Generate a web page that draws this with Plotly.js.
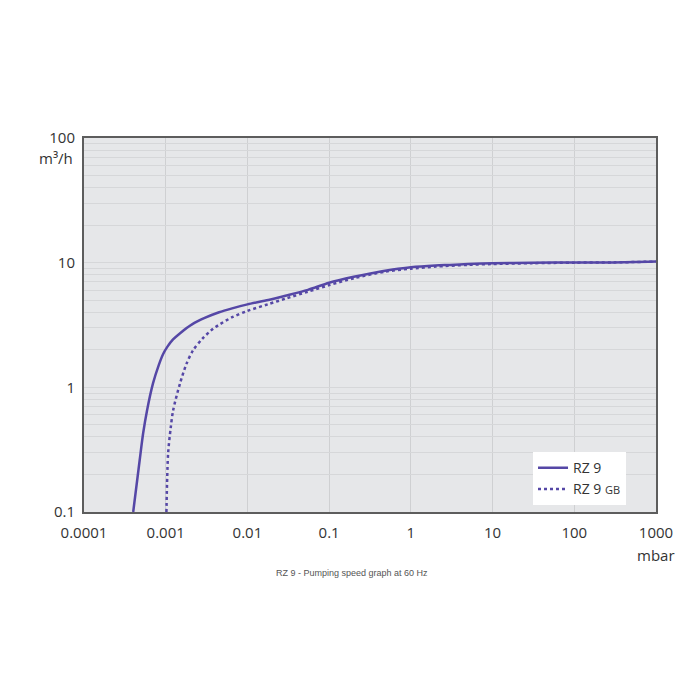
<!DOCTYPE html>
<html>
<head>
<meta charset="utf-8">
<script src="https://cdn.plot.ly/plotly-3.0.1.min.js"></script>
<style>html,body{margin:0;padding:0;background:#fff;}#chart{width:700px;height:700px;}</style>
</head>
<body>
<div id="chart"></div>
<script>
// Pressure (mbar) and pumping speed (m³/h)
var rz9Pressure = [0.0004, 0.00048, 0.00053, 0.00059, 0.0007, 0.00082, 0.00093, 0.00105, 0.00123, 0.0015, 0.0021, 0.003, 0.0045, 0.0065, 0.01, 0.018, 0.03, 0.055, 0.1, 0.2, 0.32, 0.6, 1, 2, 3, 5, 10, 30, 100, 300, 1000];
var rz9Speed    = [0.1, 0.26, 0.43, 0.65, 1.08, 1.5, 1.85, 2.12, 2.42, 2.72, 3.2, 3.6, 4.0, 4.3, 4.63, 5.02, 5.45, 6.05, 6.9, 7.7, 8.2, 8.8, 9.2, 9.5, 9.6, 9.75, 9.9, 10.0, 10.05, 10.05, 10.2];
var rz9gbPressure = [0.00102, 0.00107, 0.00115, 0.00123, 0.0015, 0.0018, 0.00216, 0.0028, 0.0038, 0.0044, 0.0065, 0.01, 0.018, 0.03, 0.055, 0.1, 0.2, 0.5, 1, 2, 5, 10, 30, 100, 300, 1000];
var rz9gbSpeed    = [0.1, 0.296, 0.47, 0.65, 1.08, 1.55, 1.98, 2.45, 2.95, 3.15, 3.65, 4.1, 4.65, 5.17, 5.85, 6.6, 7.5, 8.5, 8.95, 9.3, 9.6, 9.75, 9.9, 10.0, 10.05, 10.2];

var xTickVals = [0.0001, 0.001, 0.01, 0.1, 1, 10, 100, 1000];
var xTickText = ["0.0001", "0.001", "0.01", "0.1", "1", "10", "100", "1000"];
var yMajorVals = [0.1, 1, 10, 100];
var yMajorText = ["0.1", "1", "10", "100"];
var yMinorFactors = [2, 3, 4, 5, 6, 7, 8, 9];

var yTickVals = [], yTickText = [];
yMajorVals.forEach(function (v, i) {
  yTickVals.push(v); yTickText.push(yMajorText[i]);
  if (i < yMajorVals.length - 1) {
    yMinorFactors.forEach(function (f) { yTickVals.push(v * f); yTickText.push(""); });
  }
});

var lineColor = "#5547a6";
var traces = [
  {x: rz9Pressure, y: rz9Speed, type: "scatter", mode: "lines", name: "RZ 9",
   line: {color: lineColor, width: 2.5, shape: "spline", smoothing: 0.8}},
  {x: rz9gbPressure, y: rz9gbSpeed, type: "scatter", mode: "lines",
   name: "RZ 9 <span style='font-size:11px'>GB</span>",
   line: {color: lineColor, width: 2.5, dash: "dot", shape: "spline", smoothing: 0.8}}
];

var tickFont = {family: "Open Sans, DejaVu Sans, sans-serif", size: 15, color: "#333"};
var layout = {
  width: 700, height: 700,
  margin: {l: 84, r: 44, t: 138, b: 188},
  paper_bgcolor: "#ffffff",
  plot_bgcolor: "#e6e7e9",
  showlegend: true,
  legend: {x: 0.785, y: 0.16, xanchor: "left", yanchor: "top", bgcolor: "#ffffff",
           font: {family: "Open Sans, DejaVu Sans, sans-serif", size: 14, color: "#333"},
           tracegroupgap: 0},
  xaxis: {type: "log", range: [-4, 3], tickvals: xTickVals, ticktext: xTickText,
          tickfont: tickFont, showgrid: true, gridcolor: "#cfd0d2", gridwidth: 1,
          showline: true, mirror: true, linecolor: "#5d5d5d", linewidth: 2,
          ticks: "", zeroline: false, fixedrange: true, ticklabelstandoff: 6},
  yaxis: {type: "log", range: [-1, 2], tickvals: yTickVals, ticktext: yTickText,
          tickfont: tickFont, showgrid: true, gridcolor: "#d6d7d9", gridwidth: 1,
          showline: true, mirror: true, linecolor: "#5d5d5d", linewidth: 2,
          ticks: "", zeroline: false, fixedrange: true, ticklabelstandoff: 4},
  annotations: [
    {text: "m³/h", xref: "paper", yref: "paper", x: -0.015, y: 0.947, xanchor: "right", yanchor: "middle",
     showarrow: false, font: tickFont},
    {text: "mbar", xref: "paper", yref: "paper", x: 1.0, y: -0.114, xanchor: "center", yanchor: "middle",
     showarrow: false, font: tickFont},
    {text: "RZ 9 - Pumping speed graph at 60 Hz", xref: "paper", yref: "paper", x: 0.468, y: -0.163,
     xanchor: "center", yanchor: "middle", showarrow: false,
     font: {family: "Liberation Sans, Arial, sans-serif", size: 9, color: "#555"}}
  ]
};

Plotly.newPlot("chart", traces, layout, {staticPlot: true, displayModeBar: false});
</script>
</body>
</html>
